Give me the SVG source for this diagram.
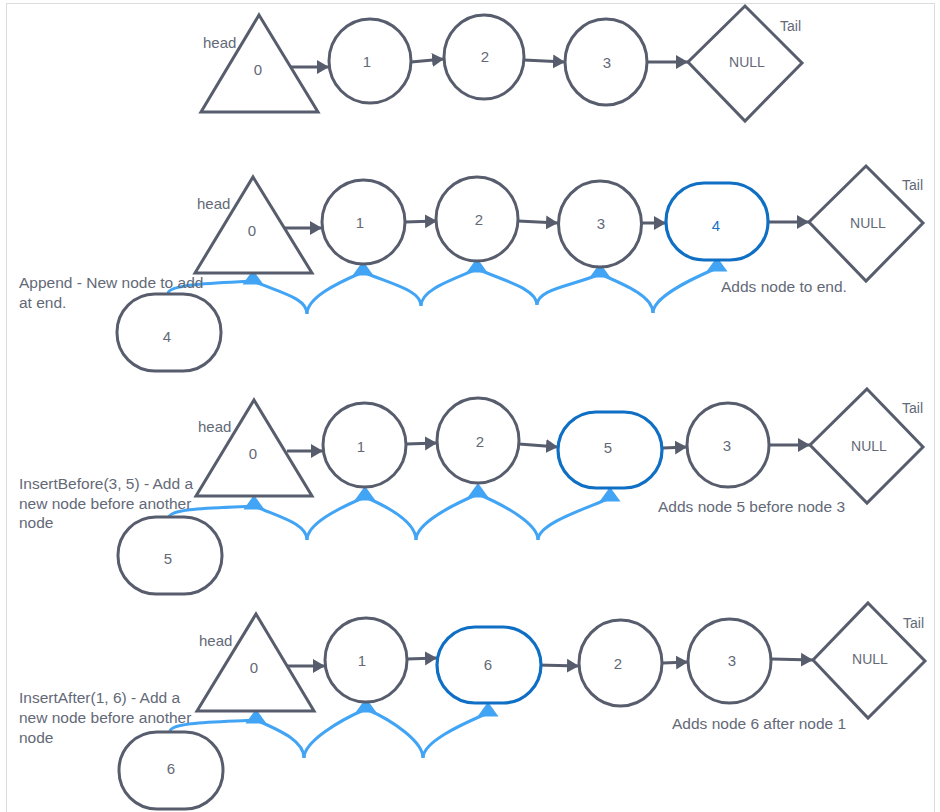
<svg xmlns="http://www.w3.org/2000/svg" width="940" height="812" viewBox="0 0 940 812">
<defs>
<style>
.n{fill:#ffffff;stroke:#575d6d;stroke-width:3}
.nb{fill:#ffffff;stroke:#0e6fc4;stroke-width:3.2}
.e{fill:none;stroke:#575d6d;stroke-width:3;marker-end:url(#ah)}
.b{fill:none;stroke:#42a4f4;stroke-width:3}
.bt{fill:#42a4f4}
text{font-family:"Liberation Sans",Arial,sans-serif;fill:#636977}
.c{font-size:15px;text-anchor:middle}
.s{font-size:14px;text-anchor:middle}
.l{font-size:15px}
.d{font-size:15.5px}
.t{font-size:14px}
.blue{fill:#1a72c4}
</style>
<marker id="ah" markerUnits="userSpaceOnUse" markerWidth="13" markerHeight="16" viewBox="0 -8 13 16" refX="12" refY="0" orient="auto">
<path d="M0,-7 L12,0 L0,7 z" fill="#575d6d"/>
</marker>
<path id="tip" d="M0,0 L10.5,14.5 L-10.5,14.5 z"/>
</defs>
<rect x="6.5" y="3.5" width="928" height="830" fill="#ffffff" stroke="#dcdcdc" stroke-width="1"/>

<g id="connectors">
<path class="e" d="M290,67 L329,67"/>
<path class="e" d="M411,62 L444,59"/>
<path class="e" d="M524,60 L565,62"/>
<path class="e" d="M648,62 L688,62"/>
<path class="e" d="M285,228 L322,228"/>
<path class="e" d="M405,222 L437,221"/>
<path class="e" d="M518,221 L558,223"/>
<path class="e" d="M642,223 L666,223"/>
<path class="e" d="M769,222 L809,222"/>
<path class="b" d="M168,293 C170,284 215,283 253,281"/>
<path class="b" d="M307,314 C307,298 281,293 253,281"/>
<path class="b" d="M307,314 C307,298 335,284 363,272"/>
<path class="b" d="M421,306 C421,290 391,284 363,272"/>
<path class="b" d="M421,306 C421,290 449,281 477,269"/>
<path class="b" d="M537,305 C537,289 505,281 477,269"/>
<path class="b" d="M537,305 C537,289 572,286 600,274"/>
<path class="b" d="M653,313 C653,297 628,286 600,274"/>
<path class="b" d="M653,313 C653,297 689,280 717,268"/>
<use href="#tip" class="bt" x="253" y="270"/>
<use href="#tip" class="bt" x="363" y="261"/>
<use href="#tip" class="bt" x="477" y="258"/>
<use href="#tip" class="bt" x="600" y="263"/>
<use href="#tip" class="bt" x="717" y="257"/>
<path class="e" d="M287,451 L323,451"/>
<path class="e" d="M406,444 L437,443"/>
<path class="e" d="M519,444 L558,447"/>
<path class="e" d="M663,448 L687,447"/>
<path class="e" d="M770,445 L810,445"/>
<path class="b" d="M169,517 C171,508 215,508 254,506"/>
<path class="b" d="M307,540 C307,524 282,518 254,506"/>
<path class="b" d="M307,540 C307,524 337,509 365,497"/>
<path class="b" d="M416,540 C416,524 393,509 365,497"/>
<path class="b" d="M416,540 C416,524 450,506 478,494"/>
<path class="b" d="M538,540 C538,524 506,506 478,494"/>
<path class="b" d="M538,540 C538,524 582,510 610,498"/>
<use href="#tip" class="bt" x="254" y="495"/>
<use href="#tip" class="bt" x="365" y="486"/>
<use href="#tip" class="bt" x="478" y="483"/>
<use href="#tip" class="bt" x="610" y="487"/>
<path class="e" d="M287,666 L325,666"/>
<path class="e" d="M407,659 L437,658"/>
<path class="e" d="M537,665 L579,666"/>
<path class="e" d="M663,663 L688,662"/>
<path class="e" d="M772,659 L813,660"/>
<path class="b" d="M170,731 C172,722 218,722 256,720"/>
<path class="b" d="M304,758 C304,742 284,732 256,720"/>
<path class="b" d="M304,758 C304,742 338,721 366,709"/>
<path class="b" d="M423,758 C423,742 394,721 366,709"/>
<path class="b" d="M423,758 C423,742 460,725 488,713"/>
<use href="#tip" class="bt" x="256" y="709"/>
<use href="#tip" class="bt" x="366" y="698"/>
<use href="#tip" class="bt" x="488" y="702"/>
</g>

<g id="r1-head"><polygon class="n" points="259,15 318,112 201,112"/><text class="c" x="258" y="75">0</text><text class="l" x="203" y="48">head</text></g>
<g id="r1-n1"><ellipse class="n" cx="370" cy="61" rx="41" ry="42"/><text class="c" x="367" y="67">1</text></g>
<g id="r1-n2"><ellipse class="n" cx="484" cy="57" rx="40" ry="42"/><text class="c" x="485" y="62">2</text></g>
<g id="r1-n3"><ellipse class="n" cx="606" cy="62" rx="41" ry="43"/><text class="c" x="607" y="68">3</text></g>
<g id="r1-null"><polygon class="n" points="745,6 802,63 745,121 688,62"/><text class="s" x="747" y="67">NULL</text><text class="t" x="780" y="31">Tail</text></g>

<g id="r2-head"><polygon class="n" points="253,177 312,273 195,273"/><text class="c" x="252" y="236">0</text><text class="l" x="197" y="209">head</text></g>
<g id="r2-n1"><ellipse class="n" cx="363.5" cy="222" rx="41.5" ry="42"/><text class="c" x="360" y="228">1</text></g>
<g id="r2-n2"><ellipse class="n" cx="477" cy="219" rx="41" ry="42"/><text class="c" x="479" y="225">2</text></g>
<g id="r2-n3"><ellipse class="n" cx="600" cy="224" rx="41.5" ry="43"/><text class="c" x="601" y="229">3</text></g>
<g id="r2-n4"><rect class="nb" x="666" y="183" width="102" height="77" rx="38" ry="38"/><text class="c blue" x="716" y="231">4</text></g>
<g id="r2-null"><polygon class="n" points="866,166 923,223 866,281 809,222"/><text class="s" x="868" y="228">NULL</text><text class="t" x="902" y="190">Tail</text></g>
<g id="r2-new"><rect class="n" x="117" y="294" width="104" height="77" rx="38" ry="38"/><text class="c" x="167" y="342">4</text></g>
<g id="r2-notes"><text class="d" x="19" y="288">Append - New node to add</text><text class="d" x="19" y="308">at end.</text><text class="d" x="721" y="292">Adds node to end.</text></g>

<g id="r3-head"><polygon class="n" points="254,400 312,496 196,496"/><text class="c" x="253" y="459">0</text><text class="l" x="198" y="432">head</text></g>
<g id="r3-n1"><ellipse class="n" cx="364.5" cy="445" rx="41.5" ry="42"/><text class="c" x="361" y="452">1</text></g>
<g id="r3-n2"><ellipse class="n" cx="478" cy="440.5" rx="41" ry="42.5"/><text class="c" x="480" y="447">2</text></g>
<g id="r3-n5"><rect class="nb" x="558" y="412" width="104" height="76" rx="38" ry="38"/><text class="c" x="608" y="453">5</text></g>
<g id="r3-n3"><ellipse class="n" cx="728" cy="445" rx="41" ry="42"/><text class="c" x="727" y="451">3</text></g>
<g id="r3-null"><polygon class="n" points="867,389 923,447 867,503 810,445"/><text class="s" x="869" y="451">NULL</text><text class="t" x="902" y="413">Tail</text></g>
<g id="r3-new"><rect class="n" x="118" y="517" width="104" height="77" rx="38" ry="38"/><text class="c" x="168" y="564">5</text></g>
<g id="r3-notes"><text class="d" x="19" y="489">InsertBefore(3, 5) - Add a</text><text class="d" x="19" y="509">new node before another</text><text class="d" x="19" y="528">node</text><text class="d" x="658" y="512">Adds node 5 before node 3</text></g>

<g id="r4-head"><polygon class="n" points="256,614 314,711 197,711"/><text class="c" x="254" y="673">0</text><text class="l" x="199" y="646">head</text></g>
<g id="r4-n1"><ellipse class="n" cx="366" cy="660" rx="41" ry="42"/><text class="c" x="362" y="666">1</text></g>
<g id="r4-n6"><rect class="nb" x="437" y="627" width="104" height="76" rx="38" ry="38"/><text class="c" x="488" y="670">6</text></g>
<g id="r4-n2"><ellipse class="n" cx="620.5" cy="663" rx="41.5" ry="43"/><text class="c" x="618" y="669">2</text></g>
<g id="r4-n3"><ellipse class="n" cx="729.5" cy="661" rx="41.5" ry="42"/><text class="c" x="732" y="666">3</text></g>
<g id="r4-null"><polygon class="n" points="868,603 925,661 868,718 813,660"/><text class="s" x="870" y="664">NULL</text><text class="t" x="903" y="628">Tail</text></g>
<g id="r4-new"><rect class="n" x="119" y="732" width="104" height="77" rx="38" ry="38"/><text class="c" x="171" y="774">6</text></g>
<g id="r4-notes"><text class="d" x="19" y="703">InsertAfter(1, 6) - Add a</text><text class="d" x="19" y="723">new node before another</text><text class="d" x="19" y="743">node</text><text class="d" x="672" y="729">Adds node 6 after node 1</text></g>
</svg>
